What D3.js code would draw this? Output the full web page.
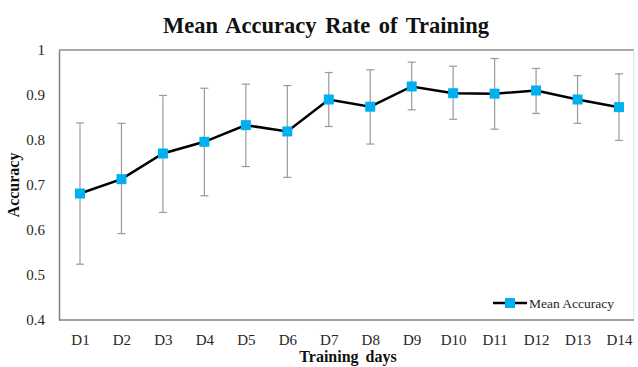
<!DOCTYPE html>
<html>
<head>
<meta charset="utf-8">
<script src="https://cdn.jsdelivr.net/npm/d3@7"></script>
<style>
body { margin: 0; background: #fff; }
text { font-family: "Liberation Serif", "Times New Roman", serif; }
</style>
</head>
<body>
<div id="chart"></div>
<script>
const width = 638
const height = 367

const days = ["D1","D2","D3","D4","D5","D6","D7","D8","D9","D10","D11","D12","D13","D14"]
const meanAcc = [0.681,0.713,0.770,0.796,0.833,0.819,0.890,0.874,0.919,0.904,0.903,0.910,0.890,0.873]
const errHigh = [0.838,0.837,0.899,0.915,0.924,0.921,0.950,0.956,0.973,0.964,0.981,0.959,0.943,0.947]
const errLow = [0.524,0.592,0.639,0.676,0.741,0.717,0.830,0.791,0.867,0.846,0.824,0.859,0.837,0.799]
const yTicks = [0.4,0.5,0.6,0.7,0.8,0.9,1]

const plot = { left: 59, right: 634, top: 50, bottom: 320 }

const svg = d3.select("#chart")
.append("svg")
.attr("width",width)
.attr("height",height)

const x = d3.scalePoint()
.domain(days)
.range([80,619])

const y = d3.scaleLinear()
.domain([0.4,1])
.range([plot.bottom,plot.top])

// frame: top and right lines
svg.append("line")
.attr("x1",plot.left).attr("x2",plot.right)
.attr("y1",plot.top).attr("y2",plot.top)
.attr("stroke","#8c8c8c").attr("stroke-width",1.5)
svg.append("line")
.attr("x1",plot.right).attr("x2",plot.right)
.attr("y1",plot.top).attr("y2",plot.bottom)
.attr("stroke","#e0e0e0").attr("stroke-width",1)

// y axis
const yAxis = svg.append("g")
.attr("transform",`translate(${plot.left},0)`)
.call(d3.axisLeft(y).tickValues(yTicks).tickSize(0).tickPadding(14).tickFormat(d=>d===1?"1":d3.format(".1f")(d)))
yAxis.select(".domain").attr("stroke","#808080").attr("stroke-width",1.5)
yAxis.selectAll("text")
.attr("font-family","Liberation Serif")
.attr("font-size",15)
.attr("fill","#262626")

// x axis
const xAxis = svg.append("g")
.attr("transform",`translate(0,${plot.bottom})`)
.call(d3.axisBottom(x).tickSize(0).tickPadding(14))
xAxis.select(".domain")
.attr("d",`M${plot.left},0H${plot.right}`)
.attr("stroke","#808080").attr("stroke-width",1.5)
xAxis.selectAll("text")
.attr("font-family","Liberation Serif")
.attr("font-size",15)
.attr("fill","#262626")

// error bars
const bars = svg.append("g")
.selectAll("g")
.data(days)
.enter()
.append("g")
.attr("stroke","#9a9a9a")
.attr("stroke-width",1.2)

bars.append("line")
.attr("x1",d=>x(d)).attr("x2",d=>x(d))
.attr("y1",(d,i)=>y(errHigh[i])).attr("y2",(d,i)=>y(errLow[i]))
bars.append("line")
.attr("x1",d=>x(d)-4).attr("x2",d=>x(d)+4)
.attr("y1",(d,i)=>y(errHigh[i])).attr("y2",(d,i)=>y(errHigh[i]))
bars.append("line")
.attr("x1",d=>x(d)-4).attr("x2",d=>x(d)+4)
.attr("y1",(d,i)=>y(errLow[i])).attr("y2",(d,i)=>y(errLow[i]))

// mean line
const line = d3.line()
.x((d,i)=>x(days[i]))
.y(d=>y(d))

svg.append("path")
.datum(meanAcc)
.attr("d",line)
.attr("fill","none")
.attr("stroke","#000")
.attr("stroke-width",2.5)

svg.append("g")
.selectAll("rect")
.data(meanAcc)
.enter()
.append("rect")
.attr("x",(d,i)=>x(days[i])-5)
.attr("y",d=>y(d)-5)
.attr("width",10)
.attr("height",10)
.attr("fill","#00b0f0")

// title
svg.append("text")
.attr("x",326)
.attr("y",33)
.attr("text-anchor","middle")
.attr("font-size",22.5)
.attr("font-weight","bold")
.attr("word-spacing",3)
.attr("fill","#111")
.text("Mean Accuracy Rate of Training")

// axis titles
svg.append("text")
.attr("x",348)
.attr("y",362)
.attr("text-anchor","middle")
.attr("font-size",16)
.attr("font-weight","bold")
.attr("word-spacing",3)
.attr("fill","#111")
.text("Training days")

svg.append("text")
.attr("transform","translate(19,185) rotate(-90)")
.attr("text-anchor","middle")
.attr("font-size",16)
.attr("font-weight","bold")
.attr("fill","#111")
.text("Accuracy")

// legend
const legend = svg.append("g").attr("transform","translate(493,303)")
legend.append("line")
.attr("x1",0).attr("x2",34).attr("y1",0).attr("y2",0)
.attr("stroke","#000").attr("stroke-width",2.5)
legend.append("rect")
.attr("x",12).attr("y",-5).attr("width",10).attr("height",10)
.attr("fill","#00b0f0")
legend.append("text")
.attr("x",36)
.attr("y",5)
.attr("font-size",13.5)
.attr("fill","#262626")
.text("Mean Accuracy")
</script>
</body>
</html>
